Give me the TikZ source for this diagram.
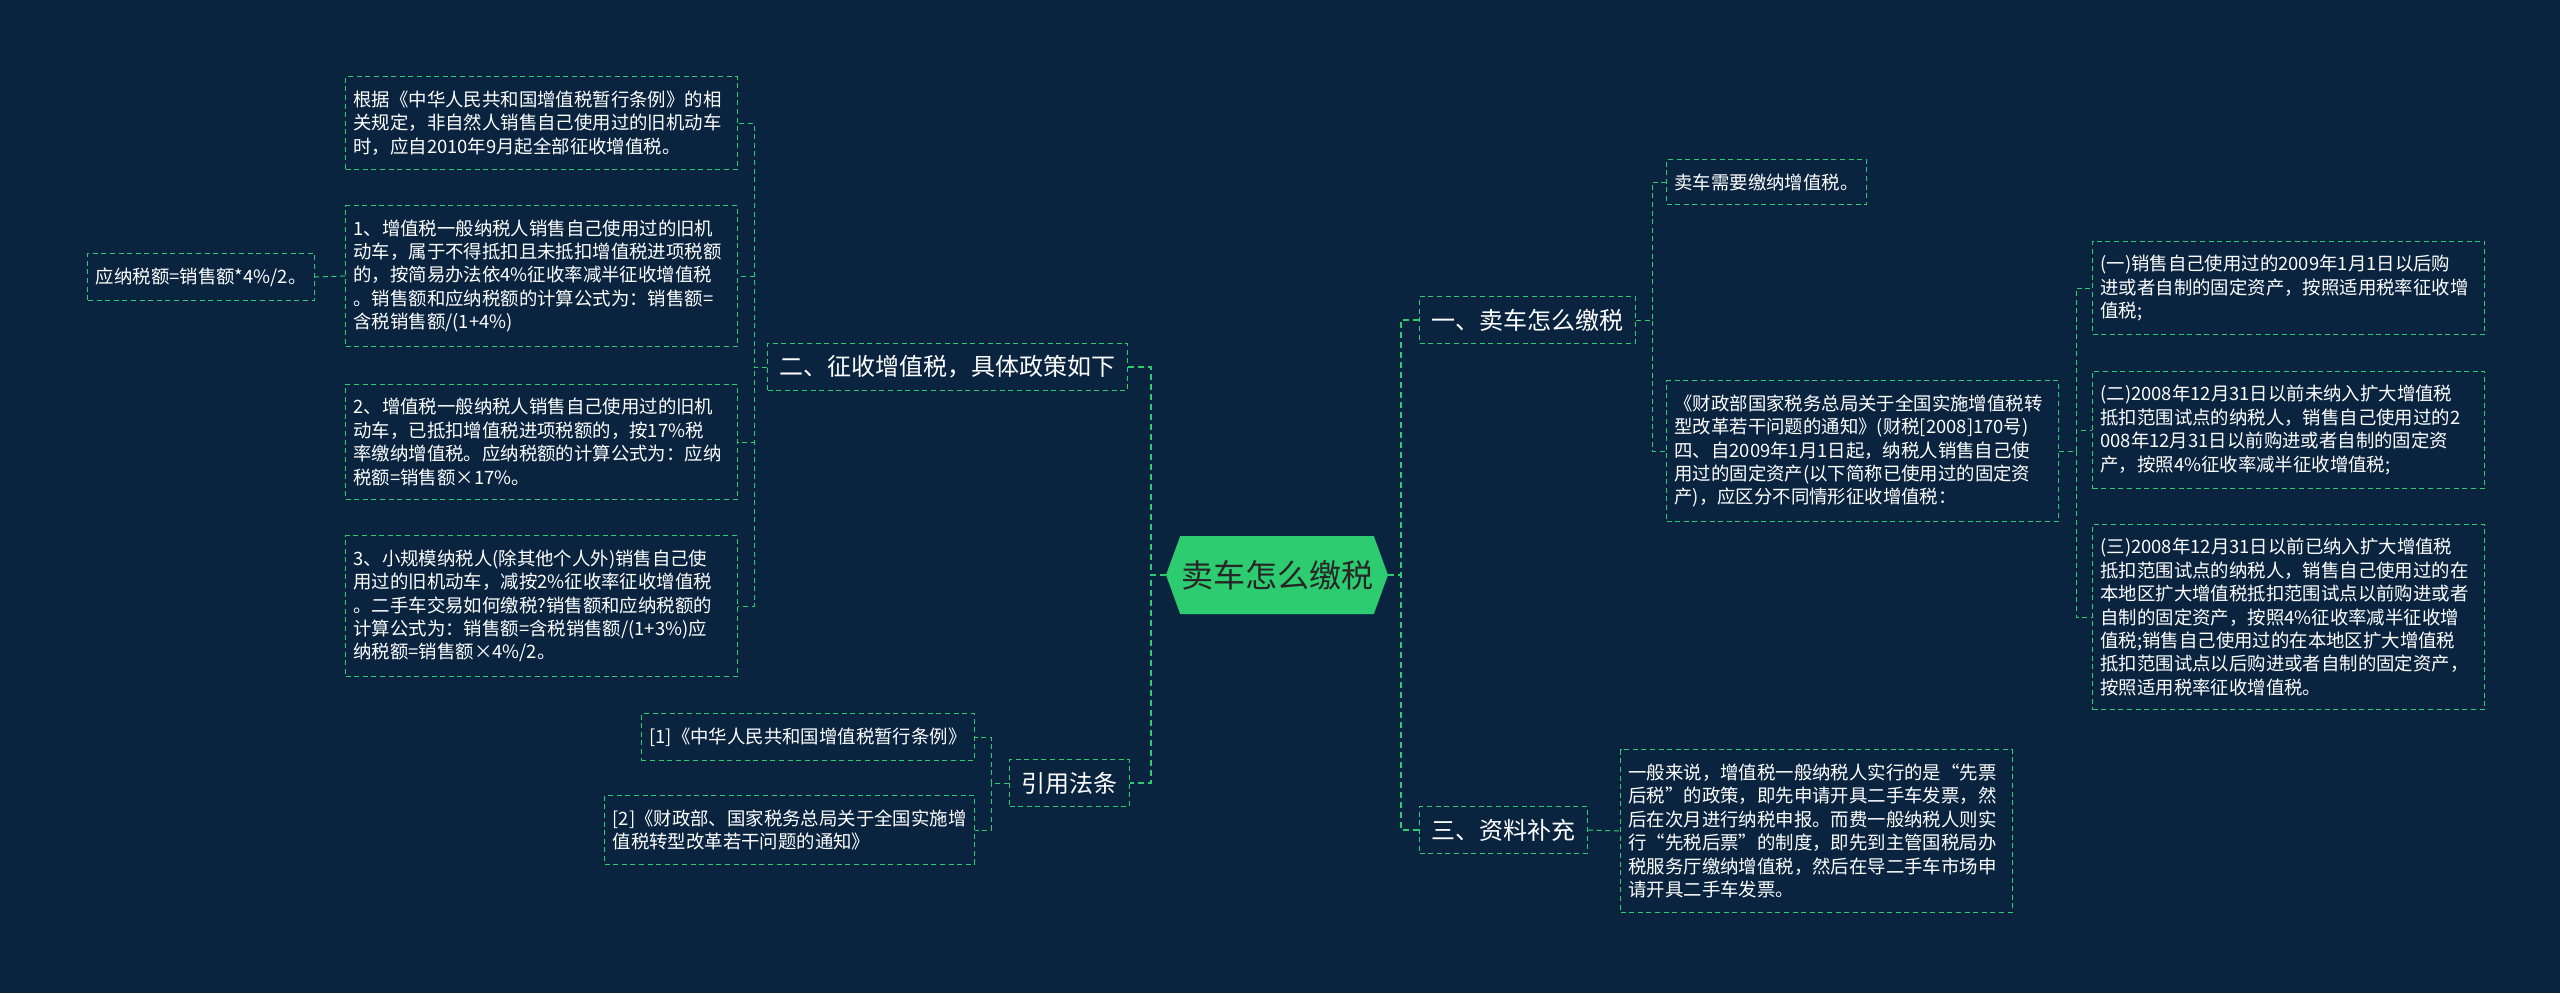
\documentclass[tikz,border=0pt]{standalone}
\usepackage{fontspec}
\newfontfamily\cjk{Noto Sans CJK SC}
\usetikzlibrary{shapes.symbols}
\definecolor{bgnavy}{RGB}{10,36,64}
\definecolor{mapgreen}{RGB}{46,204,113}
\definecolor{hexink}{RGB}{38,38,38}

\begin{document}
\begin{tikzpicture}
    [x=0.5pt,y=-0.5pt,
leaf/.style={rectangle,draw=mapgreen,line width=0.5pt,dash pattern=on 2.5pt off 1.8pt,
  text=white,align=left,inner xsep=4pt,inner ysep=7pt,font=\cjk\fontsize{9.2pt}{11.7pt}\selectfont},
wide/.style={leaf,text width=188pt},
topic/.style={rectangle,draw=mapgreen,line width=0.5pt,dash pattern=on 2.5pt off 1.8pt,
  text=white,inner xsep=6pt,inner ysep=6pt,font=\cjk\fontsize{12pt}{14pt}\selectfont},
link/.style={draw=mapgreen,line width=0.5pt,dash pattern=on 2.5pt off 1.8pt},
mainlink/.style={draw=mapgreen,line width=1pt,dash pattern=on 3pt off 2pt}
]
\fill[bgnavy] (0,0) rectangle (2560,993);

% centre
\node[signal,signal to=west and east,signal pointer angle=140,fill=mapgreen,text=hexink,
  minimum width=111pt,minimum height=39pt,inner sep=0pt,font=\cjk\fontsize{16pt}{18pt}\selectfont]
  (root) at (1277,575) {卖车怎么缴税};

% left branch
\node[topic,anchor=east] (policy) at (1128,367) {二、征收增值税，具体政策如下};
\node[wide,anchor=east] (rule1) at (738,123) {根据《中华人民共和国增值税暂行条例》的相\\关规定，非自然人销售自己使用过的旧机动车\\时，应自2010年9月起全部征收增值税。};
\node[wide,anchor=east] (rule2) at (738,276) {1、增值税一般纳税人销售自己使用过的旧机\\动车，属于不得抵扣且未抵扣增值税进项税额\\的，按简易办法依4\%征收率减半征收增值税\\。销售额和应纳税额的计算公式为：销售额=\\含税销售额/(1+4\%)};
\node[leaf,anchor=east] (ans) at (315,277) {应纳税额=销售额*4\%/2。};
\node[wide,anchor=east] (rule3) at (738,442) {2、增值税一般纳税人销售自己使用过的旧机\\动车，已抵扣增值税进项税额的，按17\%税\\率缴纳增值税。应纳税额的计算公式为：应纳\\税额=销售额×17\%。};
\node[wide,anchor=east] (rule4) at (738,606) {3、小规模纳税人(除其他个人外)销售自己使\\用过的旧机动车，减按2\%征收率征收增值税\\。二手车交易如何缴税?销售额和应纳税额的\\计算公式为：销售额=含税销售额/(1+3\%)应\\纳税额=销售额×4\%/2。};

\node[topic,anchor=east] (cite) at (1130,783) {引用法条};
\node[leaf,anchor=east] (ref1) at (975,737) {[1]《中华人民共和国增值税暂行条例》};
\node[leaf,anchor=east] (ref2) at (975,830) {[2]《财政部、国家税务总局关于全国实施增\\值税转型改革若干问题的通知》};

% right branch
\node[topic,anchor=west] (sec1) at (1419,320) {一、卖车怎么缴税};
\node[leaf,anchor=west] (need) at (1666,182) {卖车需要缴纳增值税。};
\node[wide,anchor=west] (notice) at (1666,451) {《财政部国家税务总局关于全国实施增值税转\\型改革若干问题的通知》(财税[2008]170号)\\四、自2009年1月1日起，纳税人销售自己使\\用过的固定资产(以下简称已使用过的固定资\\产)，应区分不同情形征收增值税：};
\node[wide,anchor=west] (case1) at (2092,288) {(一)销售自己使用过的2009年1月1日以后购\\进或者自制的固定资产，按照适用税率征收增\\值税;};
\node[wide,anchor=west] (case2) at (2092,430) {(二)2008年12月31日以前未纳入扩大增值税\\抵扣范围试点的纳税人，销售自己使用过的2\\008年12月31日以前购进或者自制的固定资\\产，按照4\%征收率减半征收增值税;};
\node[wide,anchor=west] (case3) at (2092,617) {(三)2008年12月31日以前已纳入扩大增值税\\抵扣范围试点的纳税人，销售自己使用过的在\\本地区扩大增值税抵扣范围试点以前购进或者\\自制的固定资产，按照4\%征收率减半征收增\\值税;销售自己使用过的在本地区扩大增值税\\抵扣范围试点以后购进或者自制的固定资产，\\按照适用税率征收增值税。};

\node[topic,anchor=west] (sec3) at (1419,830) {三、资料补充};
\node[wide,anchor=west] (extra) at (1620,831) {一般来说，增值税一般纳税人实行的是“先票\\后税”的政策，即先申请开具二手车发票，然\\后在次月进行纳税申报。而费一般纳税人则实\\行“先税后票”的制度，即先到主管国税局办\\税服务厅缴纳增值税，然后在导二手车市场申\\请开具二手车发票。};

% connectors
\foreach \kid in {sec1,sec3}
  \draw[mainlink] (root.east) -- ++(13,0) |- (\kid.west);
\foreach \kid in {policy,cite}
  \draw[mainlink] (root.west) -- ++(-15,0) |- (\kid.east);
\foreach \kid in {rule1,rule2,rule3,rule4}
  \draw[link] (policy.west) -| ([xshift=8pt]\kid.east) -- (\kid.east);
\draw[link] (rule2.west) -- (ans.east);
\foreach \kid in {ref1,ref2}
  \draw[link] (cite.west) -| ([xshift=8pt]\kid.east) -- (\kid.east);
\foreach \kid in {need,notice}
  \draw[link] (sec1.east) -| ([xshift=-7pt]\kid.west) -- (\kid.west);
\foreach \kid in {case1,case2,case3}
  \draw[link] (notice.east) -| ([xshift=-8pt]\kid.west) -- (\kid.west);
\draw[link] (sec3.east) -- (extra.west);
\end{tikzpicture}
\end{document}
